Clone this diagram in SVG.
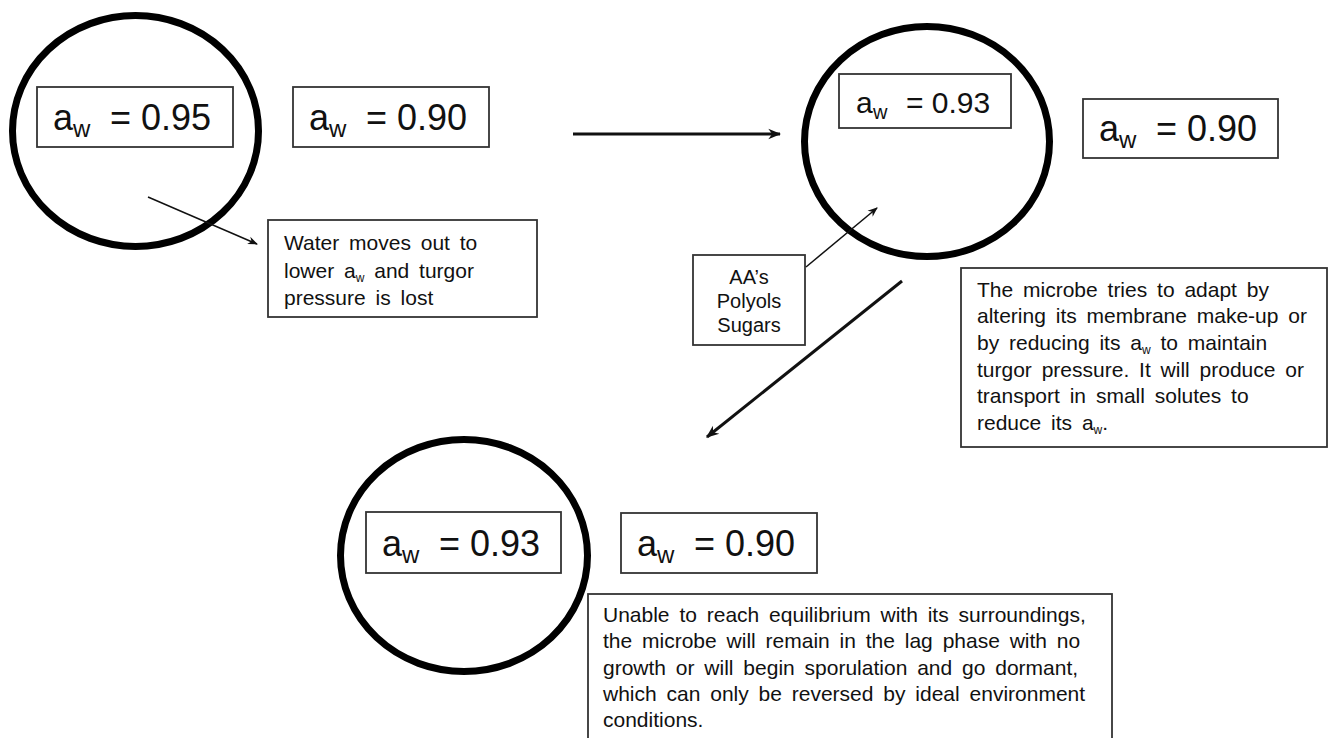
<svg xmlns="http://www.w3.org/2000/svg" width="1333" height="738" viewBox="0 0 1333 738">
<style>
  text { font-family: "Liberation Sans", Arial, sans-serif; fill: #111; }
  .cell { fill: none; stroke: #000; stroke-width: 7; }
  .box { fill: #fff; stroke: #333; stroke-width: 1.8; }
  .big { font-size: 36px; }
  .mid { font-size: 30px; }
  .note { font-size: 21px; word-spacing: 4px; }
  .small { font-size: 20px; }
  .sub { font-size: 12px; }
  .thin { stroke: #111; stroke-width: 1.5; fill: none; }
  .thick { stroke: #111; stroke-width: 3; fill: none; }
</style>
<defs>
  <marker id="hThin" viewBox="0 0 10 10" refX="9" refY="5" markerWidth="10" markerHeight="10" markerUnits="userSpaceOnUse" orient="auto">
    <path d="M0,1 L10,5 L0,9 L3,5 Z" fill="#111"/>
  </marker>
  <marker id="hThick" viewBox="0 0 10 10" refX="9" refY="5" markerWidth="13" markerHeight="13" markerUnits="userSpaceOnUse" orient="auto">
    <path d="M0,1 L10,5 L0,9 L3,5 Z" fill="#111"/>
  </marker>
</defs>

<g id="cell1">
  <ellipse class="cell" cx="135.5" cy="131" rx="123" ry="115.5"/>
</g>
<g id="cell1-aw">
  <rect class="box" x="37" y="87" width="196" height="60"/>
  <text class="big" x="53" y="130">a<tspan x="73" y="137" font-size="24">w</tspan><tspan x="110" y="130">= 0.95</tspan></text>
</g>
<g id="env1-aw">
  <rect class="box" x="293" y="87" width="196" height="60"/>
  <text class="big" x="309" y="130">a<tspan x="329" y="137" font-size="24">w</tspan><tspan x="366" y="130">= 0.90</tspan></text>
</g>
<g id="note-water">
  <rect class="box" x="268" y="220" width="269" height="97"/>
  <text class="note" x="284" y="250">Water moves out to</text>
  <text class="note" x="284" y="278">lower a<tspan class="sub" dy="4">w</tspan><tspan dy="-4"> and turgor</tspan></text>
  <text class="note" x="284" y="305">pressure is lost</text>
</g>

<g id="cell2">
  <ellipse class="cell" cx="927" cy="141.5" rx="122.5" ry="115"/>
</g>
<g id="cell2-aw">
  <rect class="box" x="839" y="74" width="172" height="54"/>
  <text class="mid" x="856" y="113">a<tspan x="873" y="119" font-size="20">w</tspan><tspan x="906" y="113">= 0.93</tspan></text>
</g>
<g id="env2-aw">
  <rect class="box" x="1083" y="99" width="195" height="59"/>
  <text class="big" x="1099" y="141">a<tspan x="1119" y="148" font-size="24">w</tspan><tspan x="1156" y="141">= 0.90</tspan></text>
</g>
<g id="note-solutes">
  <rect class="box" x="693" y="255" width="112" height="90"/>
  <text class="small" x="749" y="284" text-anchor="middle">AA’s</text>
  <text class="small" x="749" y="308" text-anchor="middle">Polyols</text>
  <text class="small" x="749" y="332" text-anchor="middle">Sugars</text>
</g>
<g id="note-adapt">
  <rect class="box" x="961" y="268" width="366" height="179"/>
  <text class="note" x="977" y="297">The microbe tries to adapt by</text>
  <text class="note" x="977" y="323">altering its membrane make-up or</text>
  <text class="note" x="977" y="350">by reducing its a<tspan class="sub" dy="4">w</tspan><tspan dy="-4"> to maintain</tspan></text>
  <text class="note" x="977" y="377">turgor pressure. It will produce or</text>
  <text class="note" x="977" y="403">transport in small solutes to</text>
  <text class="note" x="977" y="430">reduce its a<tspan class="sub" dy="4">w</tspan><tspan dy="-4">.</tspan></text>
</g>

<g id="cell3">
  <ellipse class="cell" cx="464" cy="555.5" rx="123.5" ry="116"/>
</g>
<g id="cell3-aw">
  <rect class="box" x="366" y="512" width="195" height="61"/>
  <text class="big" x="382" y="556">a<tspan x="402" y="563" font-size="24">w</tspan><tspan x="439" y="556">= 0.93</tspan></text>
</g>
<g id="env3-aw">
  <rect class="box" x="621" y="513" width="196" height="60"/>
  <text class="big" x="637" y="556">a<tspan x="657" y="563" font-size="24">w</tspan><tspan x="694" y="556">= 0.90</tspan></text>
</g>
<g id="note-dormant">
  <rect class="box" x="588" y="594" width="524" height="160"/>
  <text class="note" x="603" y="622">Unable to reach equilibrium with its surroundings,</text>
  <text class="note" x="603" y="648">the microbe will remain in the lag phase with no</text>
  <text class="note" x="603" y="675">growth or will begin sporulation and go dormant,</text>
  <text class="note" x="603" y="701">which can only be reversed by ideal environment</text>
  <text class="note" x="603" y="727">conditions.</text>
</g>

<g id="connectors">
  <line class="thin" x1="148" y1="197" x2="257" y2="244" marker-end="url(#hThin)"/>
  <line class="thick" x1="573" y1="134" x2="780" y2="134" marker-end="url(#hThick)"/>
  <line class="thin" x1="806" y1="267" x2="877" y2="208" marker-end="url(#hThin)"/>
  <line class="thick" x1="902" y1="281" x2="707" y2="437" marker-end="url(#hThick)"/>
</g>
</svg>
